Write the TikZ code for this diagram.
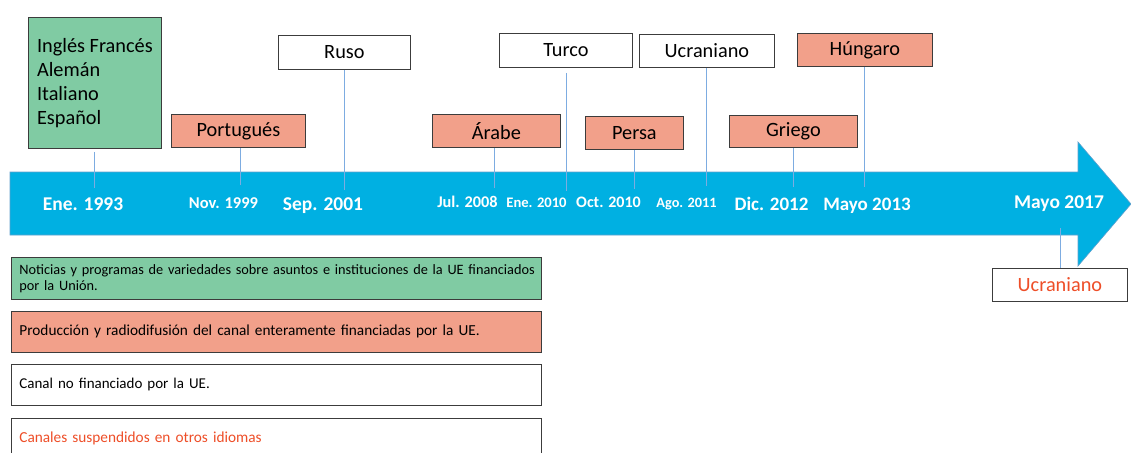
\documentclass[tikz,border=0pt]{standalone}
\usepackage{fontspec}
\setmainfont{Carlito}
\definecolor{arrowblue}{RGB}{0,176,226}
\definecolor{arrowedge}{RGB}{95,160,205}
\definecolor{eugreen}{RGB}{128,203,163}
\definecolor{eusalmon}{RGB}{242,160,138}
\definecolor{boxline}{RGB}{60,60,60}
\definecolor{connblue}{RGB}{125,172,225}
\definecolor{suspred}{RGB}{238,78,40}
\begin{document}
\begin{tikzpicture}[x=1pt,y=-1pt,
  lbox/.style={draw=boxline,line width=0.8pt,anchor=north west,inner sep=0pt,
    font=\fontsize{20.3}{24.2}\selectfont},
  legbox/.style={draw=boxline,line width=0.8pt,anchor=north west,inner xsep=8pt,inner ysep=0pt,
    minimum width=530,text width=514pt,align=left,font=\fontsize{15}{14}\selectfont},
  conn/.style={draw=connblue,line width=0.8pt},
  datebig/.style={text=white,anchor=base,inner sep=0pt,font=\bfseries\fontsize{19.5}{22}\selectfont},
  datesmall/.style={text=white,anchor=base,inner sep=0pt,font=\bfseries\fontsize{#1}{18}\selectfont}]
\useasboundingbox (0,0) rectangle (1131,452);

% timeline arrow
\path[fill=arrowblue,draw=arrowedge,line width=0.6pt]
  (10,172) -- (1078,172) -- (1078,142) -- (1131,204) -- (1078,266) -- (1078,235) -- (10,235) -- cycle;

% language boxes
\node[lbox,fill=eugreen,minimum width=133,minimum height=131,align=left] (gb) at (28,17)
  {Inglés Francés\\Alemán\\Italiano\\Español};
\node[lbox,fill=eusalmon,minimum width=134,minimum height=33] (por) at (171,114) {Portugués};
\node[lbox,fill=white,minimum width=132,minimum height=34] (ruso) at (278,35) {Ruso};
\node[lbox,fill=eusalmon,minimum width=128,minimum height=33] (arabe) at (432,114) {Árabe};
\node[lbox,fill=white,minimum width=133,minimum height=34] (turco) at (499,33) {Turco};
\node[lbox,fill=eusalmon,minimum width=98,minimum height=33] (persa) at (585,116) {Persa};
\node[lbox,fill=white,minimum width=135,minimum height=33] (ucr) at (639,34) {Ucraniano};
\node[lbox,fill=eusalmon,minimum width=128,minimum height=32] (griego) at (729,115) {Griego};
\node[lbox,fill=eusalmon,minimum width=135,minimum height=33] (hung) at (797,33) {Húngaro};
\node[lbox,fill=white,minimum width=135,minimum height=33,text=suspred] (ucrb) at (992,268) {Ucraniano};

% connector ends
\coordinate (c1) at (94,188);
\coordinate (c2) at (240,185);
\coordinate (c3) at (344,190);
\coordinate (c4) at (494,188);
\coordinate (c5) at (566,191);
\coordinate (c6) at (634,189);
\coordinate (c7) at (706,186);
\coordinate (c8) at (793,187);
\coordinate (c9) at (864,187);
\coordinate (c10) at (1060,228);

\draw[conn,shorten <=3pt] (gb.south -| c1) -- (c1);
\draw[conn] (por.south -| c2) -- (c2);
\draw[conn] (ruso.south -| c3) -- (c3);
\draw[conn] (arabe.south -| c4) -- (c4);
\draw[conn,shorten <=5pt] (turco.south -| c5) -- (c5);
\draw[conn] (persa.south -| c6) -- (c6);
\draw[conn] (ucr.south -| c7) -- (c7);
\draw[conn] (griego.south -| c8) -- (c8);
\draw[conn] (hung.south -| c9) -- (c9);
\draw[conn] (c10) -- (ucrb.north -| c10);

% dates
\node[datebig] (d1) at (83,210) {Ene. 1993};
\node[datesmall=16.5] (d2) at (223.5,208) {Nov. 1999};
\node[datebig] (d3) at (323,210) {Sep. 2001};
\node[datesmall=16.3] (d4) at (467.5,207) {Jul. 2008};
\node[datesmall=14.6] (d5) at (536.5,207) {Ene. 2010};
\node[datesmall=16] (d6) at (608.5,207) {Oct. 2010};
\node[datesmall=14.3] (d7) at (686.5,207) {Ago. 2011};
\node[datesmall=19] (d8) at (771.5,210) {Dic. 2012};
\node[datesmall=19] (d9) at (867,210) {Mayo 2013};
\node[datebig] (d10) at (1059,208.5) {Mayo 2017};

% legend
\node[legbox,fill=eugreen,minimum height=42,font=\fontsize{14.3}{16.5}\selectfont,text height=10pt] (l1) at (11,257)
  {\mbox{Noticias y programas de variedades sobre asuntos e instituciones de la UE financiados}\\por la Unión.};
\node[legbox,fill=eusalmon,minimum height=41,font=\fontsize{15.3}{14}\selectfont] (l2) at (11,311)
  {Producción y radiodifusión del canal enteramente financiadas por la UE.};
\node[legbox,fill=white,minimum height=41] (l3) at (11,364)
  {Canal no financiado por la UE.};
\node[legbox,fill=white,minimum height=41,text=suspred,font=\fontsize{15.3}{14}\selectfont] (l4) at (11,418)
  {Canales suspendidos en otros idiomas};
\end{tikzpicture}
\end{document}
